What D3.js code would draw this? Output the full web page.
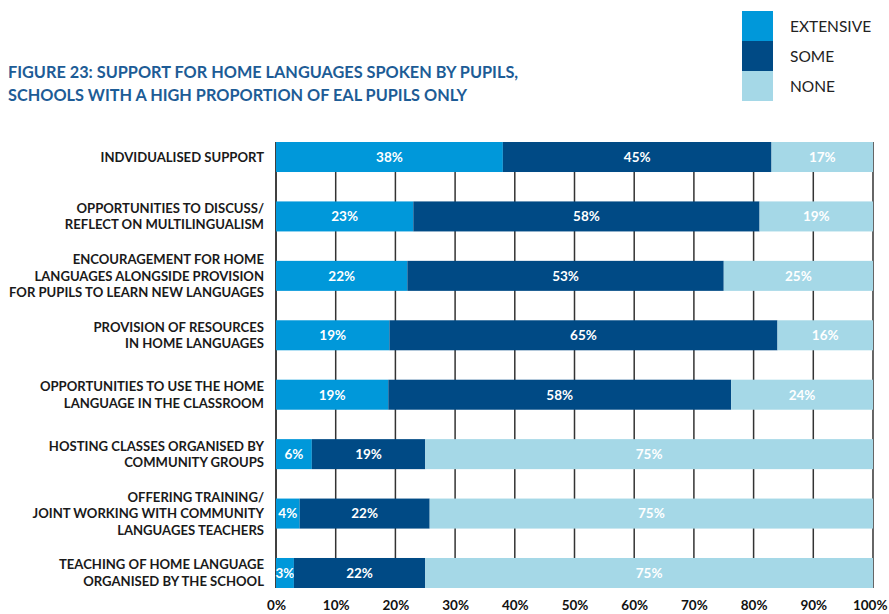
<!DOCTYPE html>
<html>
<head>
<meta charset="utf-8">
<script src="https://cdn.jsdelivr.net/npm/d3@7"></script>
<style>
	body { margin: 0; background: #fff; }
	text { font-family: Lato, "Open Sans", sans-serif; }
</style>
</head>
<body>
<div id="chart"></div>
<script>
var categories = [
	["INDVIDUALISED SUPPORT"],
	["OPPORTUNITIES TO DISCUSS/", "REFLECT ON MULTILINGUALISM"],
	["ENCOURAGEMENT FOR HOME", "LANGUAGES ALONGSIDE PROVISION", "FOR PUPILS TO LEARN NEW LANGUAGES"],
	["PROVISION OF RESOURCES", "IN HOME LANGUAGES"],
	["OPPORTUNITIES TO USE THE HOME", "LANGUAGE IN THE CLASSROOM"],
	["HOSTING CLASSES ORGANISED BY", "COMMUNITY GROUPS"],
	["OFFERING TRAINING/", "JOINT WORKING WITH COMMUNITY", "LANGUAGES TEACHERS"],
	["TEACHING OF HOME LANGUAGE", "ORGANISED BY THE SCHOOL"]
];
var extensive = [38, 23, 22, 19, 19, 6, 4, 3];
var some      = [45, 58, 53, 65, 58, 19, 22, 22];
var none      = [17, 19, 25, 16, 24, 75, 75, 75];
var seriesNames = ["EXTENSIVE", "SOME", "NONE"];
var xTicks = [0, 10, 20, 30, 40, 50, 60, 70, 80, 90, 100];

var width = 889, height = 614;

var color = d3.scaleOrdinal()
	.domain(seriesNames)
	.range(["#0098da", "#004a85", "#a5d8e7"]);

var svg = d3.select("#chart").append("svg")
	.attr("width", width)
	.attr("height", height);

var x = d3.scaleLinear().domain([0, 100]).range([276, 873]);
var y = d3.scaleBand()
	.domain(d3.range(categories.length))
	.range([142, 588])
	.paddingInner(0.495)
	.paddingOuter(0);

// rows normalised so each bar fills the full width
var rows = categories.map(function(c, i) {
	var vals = [extensive[i], some[i], none[i]];
	var total = d3.sum(vals);
	var acc = 0;
	return vals.map(function(v, j) {
		var s = { row: i, key: seriesNames[j], value: v, x0: acc * 100 / total };
		acc += v;
		s.x1 = acc * 100 / total;
		return s;
	});
});

// title
svg.append("text")
	.attr("x", 8).attr("y", 78)
	.attr("fill", "#1d5c96")
	.style("font-size", "16.3px")
	.style("font-weight", "bold")
	.text("FIGURE 23: SUPPORT FOR HOME LANGUAGES SPOKEN BY PUPILS,");
svg.append("text")
	.attr("x", 8).attr("y", 101)
	.attr("fill", "#1d5c96")
	.style("font-size", "16.3px")
	.style("font-weight", "bold")
	.text("SCHOOLS WITH A HIGH PROPORTION OF EAL PUPILS ONLY");

// legend
var legend = svg.append("g").selectAll("g")
	.data(seriesNames)
	.enter().append("g")
	.attr("transform", function(d, i) { return "translate(742," + (11 + i * 30) + ")"; });
legend.append("rect")
	.attr("width", 31).attr("height", 30)
	.attr("fill", function(d) { return color(d); });
legend.append("text")
	.attr("x", 48).attr("y", 16).attr("dy", "0.35em")
	.attr("fill", "#222")
	.style("font-size", "15.5px")
	.text(function(d) { return d; });

// grid
svg.append("g")
	.selectAll("line")
	.data(xTicks)
	.enter().append("line")
	.attr("x1", function(d) { return x(d); })
	.attr("x2", function(d) { return x(d); })
	.attr("y1", y.range()[0])
	.attr("y2", y.range()[1])
	.attr("stroke", function(d) { return d === 0 ? "#000" : "#333"; })
	.attr("stroke-width", 1.5);

// bars
var seg = svg.append("g")
	.selectAll("g")
	.data(d3.merge(rows))
	.enter().append("g");
seg.append("rect")
	.attr("x", function(d) { return x(d.x0); })
	.attr("y", function(d) { return y(d.row); })
	.attr("width", function(d) { return x(d.x1) - x(d.x0); })
	.attr("height", y.bandwidth())
	.attr("fill", function(d) { return color(d.key); });
seg.append("text")
	.attr("x", function(d) { return (x(d.x0) + x(d.x1)) / 2; })
	.attr("y", function(d) { return y(d.row) + y.bandwidth() / 2; })
	.attr("dy", "0.36em")
	.attr("text-anchor", "middle")
	.attr("fill", "#fff")
	.style("font-size", "13.5px")
	.style("font-weight", "bold")
	.text(function(d) { return d.value + "%"; });

// category labels
var lab = svg.append("g")
	.selectAll("text")
	.data(categories)
	.enter().append("text")
	.attr("text-anchor", "end")
	.attr("fill", "#1a1a1a")
	.style("font-size", "13.1px")
	.style("font-weight", "bold");
lab.selectAll("tspan")
	.data(function(d, i) {
		return d.map(function(t, k) { return { t: t, k: k, n: d.length, row: i }; });
	})
	.enter().append("tspan")
	.attr("x", 264)
	.attr("y", function(d) {
		return y(d.row) + y.bandwidth() / 2 + (d.k - (d.n - 1) / 2) * 16.7;
	})
	.attr("dy", "0.36em")
	.text(function(d) { return d.t; });

// x axis
var xAxis = svg.append("g")
	.attr("transform", "translate(0,597)")
	.call(d3.axisBottom(x).tickValues(xTicks).tickSize(0).tickFormat(function(d) { return d + "%"; }));
xAxis.select(".domain").remove();
xAxis.selectAll("text")
	.attr("fill", "#111")
	.style("font-family", "Lato, sans-serif")
	.style("font-size", "13.5px")
	.style("font-weight", "bold");
// last label pulled in so it stays inside the frame
xAxis.selectAll("text")
	.filter(function(d) { return d === 100; })
	.attr("text-anchor", "end")
	.attr("x", 14);
</script>
</body>
</html>
